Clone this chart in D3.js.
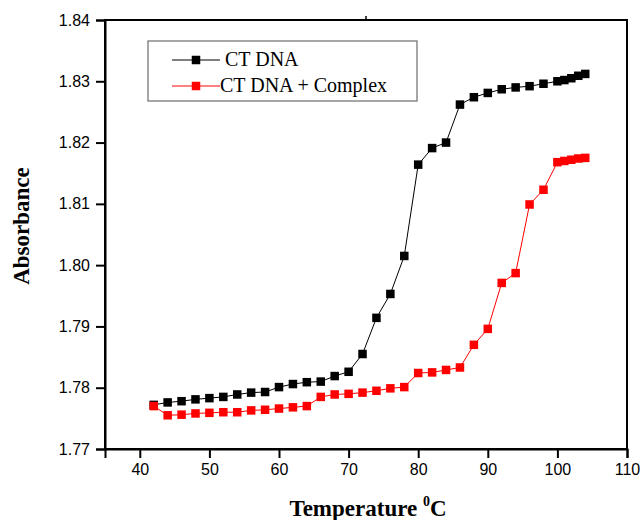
<!DOCTYPE html>
<html>
<head>
<meta charset="utf-8">
<script src="https://cdn.jsdelivr.net/npm/d3@7"></script>
<style>
  body { margin: 0; background: #fff; }
  .tick text { font-family: "Liberation Sans", Arial, sans-serif; font-size: 16px; fill: #000; }
</style>
</head>
<body>
<svg width="644" height="520"></svg>
<script>
// temperatures (deg C), shared by both series
const temps = [42,44,46,48,50,52,54,56,58,60,62,64,66,68,70,72,74,76,78,80,82,84,86,88,90,92,94,96,98,100,101,102,103,104];
const ctDna = [1.7772,1.7776,1.7778,1.7781,1.7783,1.7785,1.7789,1.7792,1.7793,1.7801,1.7806,1.7809,1.7810,1.7819,1.7826,1.7855,1.7914,1.7953,1.8015,1.8164,1.8191,1.8200,1.8262,1.8274,1.8281,1.8287,1.8290,1.8292,1.8296,1.8300,1.8302,1.8305,1.8309,1.8312];
const ctDnaComplex = [1.7770,1.7755,1.7756,1.7758,1.7759,1.7760,1.7760,1.7763,1.7764,1.7766,1.7768,1.7770,1.7785,1.7789,1.7790,1.7792,1.7795,1.7799,1.7801,1.7824,1.7825,1.7829,1.7833,1.7870,1.7896,1.7971,1.7987,1.8099,1.8123,1.8168,1.8170,1.8172,1.8174,1.8175];
const xTicks = [40,50,60,70,80,90,100,110];
const yTicks = [1.77,1.78,1.79,1.80,1.81,1.82,1.83,1.84];
const seriesNames = ["CT DNA", "CT DNA + Complex"];
const seriesColors = ["#000000", "#ff0000"];

const plotLeft = 105, plotTop = 20, plotRight = 627, plotBottom = 449;

const svg = d3.select("svg");

const x = d3.scaleLinear().domain([35, 110]).range([plotLeft, plotRight]);
const y = d3.scaleLinear().domain([1.77, 1.84]).range([plotBottom, plotTop]);

// frame
svg.append("rect")
    .attr("x", plotLeft).attr("y", plotTop)
    .attr("width", plotRight - plotLeft).attr("height", plotBottom - plotTop)
    .attr("fill", "none").attr("stroke", "#000").attr("stroke-width", 2);

const xAxis = svg.append("g")
    .attr("transform", `translate(0, ${plotBottom})`)
    .call(d3.axisBottom(x).tickValues(xTicks).tickSize(9).tickPadding(6).tickFormat(d3.format("d")));

const yAxis = svg.append("g")
    .attr("transform", `translate(${plotLeft}, 0)`)
    .call(d3.axisLeft(y).tickValues(yTicks).tickSize(9).tickPadding(6).tickFormat(d3.format(".2f")));

[xAxis, yAxis].forEach(function(a) {
  a.select(".domain").attr("stroke-width", 2);
  a.selectAll(".tick line").attr("stroke-width", 2);
});

// small stray tick on top border
svg.append("line")
    .attr("x1", 366).attr("x2", 366).attr("y1", plotTop - 4).attr("y2", plotTop)
    .attr("stroke", "#000").attr("stroke-width", 1.5);

const series = [ctDna, ctDnaComplex];
const line = d3.line()
    .x(function(d, i) { return x(temps[i]); })
    .y(function(d) { return y(d); });

const ms = 8.5;
series.forEach(function(vals, s) {
  svg.append("path")
      .datum(vals)
      .attr("fill", "none")
      .attr("stroke", seriesColors[s])
      .attr("stroke-width", 1)
      .attr("d", line);

  svg.selectAll(".pt" + s)
      .data(vals)
      .enter().append("rect")
      .attr("class", "pt" + s)
      .attr("x", function(d, i) { return x(temps[i]) - ms / 2; })
      .attr("y", function(d) { return y(d) - ms / 2; })
      .attr("width", ms).attr("height", ms)
      .attr("fill", seriesColors[s]);
});

// legend
const legend = svg.append("g");
legend.append("rect")
    .attr("x", 148).attr("y", 41).attr("width", 269).attr("height", 60)
    .attr("fill", "#fff").attr("stroke", "#777").attr("stroke-width", 1.3);

seriesNames.forEach(function(name, s) {
  const ly = 60 + s * 26;
  legend.append("line")
      .attr("x1", 172).attr("x2", 220).attr("y1", ly).attr("y2", ly)
      .attr("stroke", seriesColors[s]).attr("stroke-width", 1);
  legend.append("rect")
      .attr("x", 196 - ms / 2).attr("y", ly - ms / 2)
      .attr("width", ms).attr("height", ms)
      .attr("fill", seriesColors[s]);
  legend.append("text")
      .attr("x", s === 0 ? 225 : 220).attr("y", ly + 5.5)
      .attr("font-family", "Liberation Serif, Times New Roman, serif")
      .attr("font-size", 20)
      .text(name);
});

// axis titles
svg.append("text")
    .attr("x", 368).attr("y", 516)
    .attr("text-anchor", "middle")
    .attr("font-family", "Liberation Serif, Times New Roman, serif")
    .attr("font-weight", "bold")
    .attr("font-size", 23)
    .html('Temperature <tspan font-size="14" dy="-10">0</tspan><tspan dy="10">C</tspan>');

svg.append("text")
    .attr("transform", "translate(29, 226) rotate(-90)")
    .attr("text-anchor", "middle")
    .attr("font-family", "Liberation Serif, Times New Roman, serif")
    .attr("font-weight", "bold")
    .attr("font-size", 23)
    .text("Absorbance");
</script>
</body>
</html>
